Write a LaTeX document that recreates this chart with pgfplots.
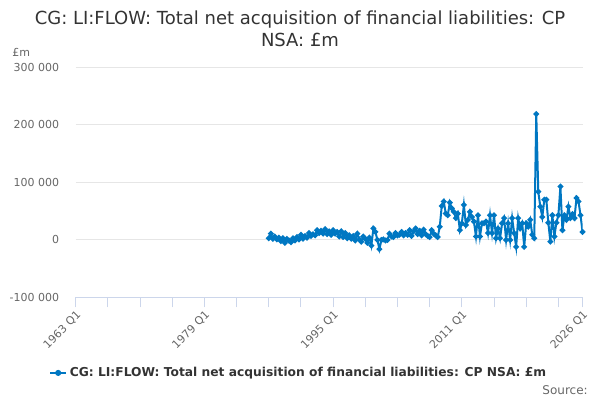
\documentclass[border=0pt]{standalone}
\usepackage{fontspec}
\setmainfont{DejaVu Sans}
\usepackage{pgfplots}
\pgfplotsset{compat=1.18}
\definecolor{lineblue}{RGB}{0,119,194}
\definecolor{gridc}{HTML}{E6E6E6}
\definecolor{axisc}{HTML}{CCD6EB}
\definecolor{titlec}{HTML}{333333}
\definecolor{labelc}{HTML}{666666}
\begin{document}
\begin{tikzpicture}[x=1pt,y=1pt]
\useasboundingbox (0,0) rectangle (450,300);
\begin{axis}[
  at={(56.8pt,76.9pt)}, anchor=south west,
  scale only axis, width=380.1pt, height=172.5pt,
  xmin=1963, xmax=2026, ymin=-100000, ymax=300000,
  axis x line*=bottom, axis y line*=left,
  x axis line style={draw=axisc, line width=0.75pt, -},
  y axis line style={draw=none},
  ymajorgrids, grid style={draw=gridc, line width=0.75pt},
  scaled y ticks=false, scaled x ticks=false,
  ytick={-100000,0,100000,200000,300000},
  yticklabels={-100 000,0,100 000,200 000,300 000},
  xtick={1963,1979,1995,2011,2026},
  xticklabels={1963 Q1,1979 Q1,1995 Q1,2011 Q1,2026 Q1},
  minor xtick={1967,1971,1975,1983,1987,1991,1999,2003,2007,2015,2019,2023},
  tick align=outside, major tick length=7.5pt, minor tick length=7.5pt,
  xtick style={draw=axisc, line width=0.75pt},
  ytick style={draw=none},
  tick label style={font=\fontsize{8.25}{10}\selectfont, text=labelc},
  yticklabel style={inner sep=0pt, xshift=-4.7pt},
  xticklabel style={rotate=45, anchor=east, inner sep=0pt, xshift=-1.3pt, yshift=-4.9pt},
  legend style={at={(0.4406,-0.328)}, anchor=center, draw=none, fill=none,
    font=\bfseries\fontsize{9.2}{11}\selectfont, text=titlec},
  legend image code/.code={\draw[lineblue, line width=1.5pt] (0pt,0pt) -- (12pt,0pt); \fill[lineblue] (6pt,0pt) circle (1.5pt);},
]
\addplot[lineblue, line width=1.5pt, mark=*, mark size=1.3pt, mark options={solid, fill=lineblue, draw=lineblue}] coordinates {
(1987,3000)(1987.25,11000)(1987.5,2000)(1987.75,6000)
(1988,1000)(1988.25,4000)(1988.5,-2000)(1988.75,3000)
(1989,-5000)(1989.25,2000)(1989.5,-1000)(1989.75,-4000)
(1990,3000)(1990.25,-1000)(1990.5,5000)(1990.75,1000)
(1991,9000)(1991.25,2000)(1991.5,7000)(1991.75,4000)
(1992,12000)(1992.25,7000)(1992.5,10000)(1992.75,8000)
(1993,17000)(1993.25,12000)(1993.5,16000)(1993.75,11000)
(1994,19000)(1994.25,10000)(1994.5,15000)(1994.75,9000)
(1995,17000)(1995.25,11000)(1995.5,14000)(1995.75,6000)
(1996,15000)(1996.25,5000)(1996.5,12000)(1996.75,3000)
(1997,8000)(1997.25,2000)(1997.5,7000)(1997.75,-1000)
(1998,11000)(1998.25,1000)(1998.5,-3000)(1998.75,6000)
(1999,2000)(1999.25,-5000)(1999.5,4000)(1999.75,-10000)
(2000,20000)(2000.25,14000)(2000.5,0)(2000.75,-16000)
(2001,0)(2001.25,1000)(2001.5,-1000)(2001.75,0)
(2002,11000)(2002.25,6000)(2002.5,5000)(2002.75,12000)
(2003,8000)(2003.25,9000)(2003.5,14000)(2003.75,8000)
(2004,12000)(2004.25,9000)(2004.5,17000)(2004.75,7000)
(2005,15000)(2005.25,20000)(2005.5,10000)(2005.75,16000)
(2006,8000)(2006.25,18000)(2006.5,10000)(2006.75,7000)
(2007,5000)(2007.25,17000)(2007.5,11000)(2007.75,8000)
(2008,5000)(2008.25,23000)(2008.5,59000)(2008.75,67000)
(2009,46000)(2009.25,43000)(2009.5,65000)(2009.75,55000)
(2010,49000)(2010.25,38000)(2010.5,46000)(2010.75,17000)
(2011,29000)(2011.25,61000)(2011.5,26000)(2011.75,35000)
(2012,49000)(2012.25,40000)(2012.5,32000)(2012.75,6000)
(2013,43000)(2013.25,6000)(2013.5,29000)(2013.75,29000)
(2014,32000)(2014.25,12000)(2014.5,43000)(2014.75,12000)
(2015,43000)(2015.25,3000)(2015.5,20000)(2015.75,3000)
(2016,29000)(2016.25,38000)(2016.5,0)(2016.75,29000)
(2017,0)(2017.25,38000)(2017.5,12000)(2017.75,-12000)
(2018,38000)(2018.25,20000)(2018.5,29000)(2018.75,-12000)
(2019,29000)(2019.25,23000)(2019.5,35000)(2019.75,9000)
(2020,3000)(2020.25,219000)(2020.5,84000)(2020.75,58000)
(2021,40000)(2021.25,70000)(2021.5,70000)(2021.75,30000)
(2022,-3000)(2022.25,43000)(2022.5,6000)(2022.75,30000)
(2023,43000)(2023.25,93000)(2023.5,17000)(2023.75,43000)
(2024,35000)(2024.25,58000)(2024.5,38000)(2024.75,45000)
(2025,38000)(2025.25,73000)(2025.5,67000)(2025.75,43000)
(2026,14000)
};
\addlegendentry{CG: LI:FLOW: Total net acquisition of financial liabilities: CP NSA: £m}
\end{axis}
\node[anchor=base, font=\fontsize{13.5}{16}\selectfont, text=titlec, inner sep=0pt] at (225,281.6) {CG: LI:FLOW: Total net acquisition of financial liabilities: CP};
\node[anchor=base, font=\fontsize{13.5}{16}\selectfont, text=titlec, inner sep=0pt] at (225,265.1) {NSA: £m};
\node[anchor=base west, font=\fontsize{8.25}{10}\selectfont, text=labelc, inner sep=0pt] at (9,257.25) {£m};
\node[anchor=base east, font=\fontsize{9}{11}\selectfont, text=labelc, inner sep=0pt] at (441,4.5) {Source:};
\end{tikzpicture}
\end{document}
